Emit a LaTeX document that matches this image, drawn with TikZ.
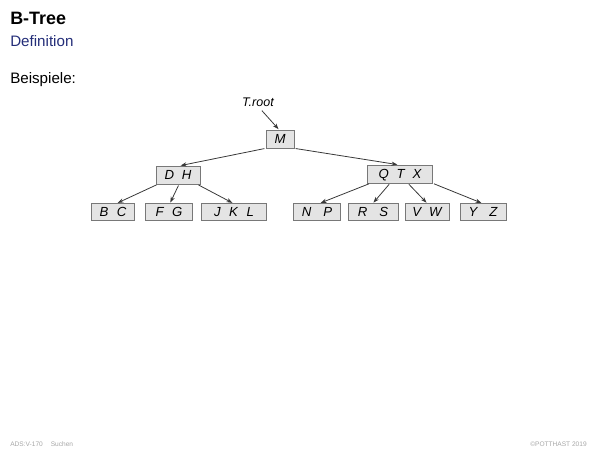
\documentclass[tikz,border=0pt]{standalone}
\usepackage{fontspec}
\setmainfont{Liberation Sans}
\usetikzlibrary{arrows.meta}
\definecolor{slideblue}{RGB}{35,45,120}
\definecolor{keyfill}{RGB}{228,228,228}
\definecolor{keydraw}{RGB}{120,120,120}
\definecolor{linkcol}{RGB}{55,55,55}
\newcommand\pxu{0.2667mm}
\begin{document}
\begin{tikzpicture}[x=\pxu, y=-\pxu,
    bnode/.style ={rectangle, draw=keydraw, fill=keyfill, line width=0.5pt,
      inner sep=0pt, minimum height=18*\pxu, text height=1.6ex, text depth=0.2ex,
      font=\fontsize{10}{12}\selectfont\itshape},
    leaf/.style ={bnode, minimum height=17*\pxu},
    slidetext/.style ={inner sep=0pt, anchor=base west},
    link/.style ={draw=linkcol, line width=0.6pt, -{Stealth[length=4.5pt,width=3.2pt]},
      shorten <=1pt, shorten >=0.5pt}]
   \useasboundingbox (0,0) rectangle (600,450);
   % heading
   \node[slidetext, font=\fontsize{13.6}{16}\selectfont\bfseries] (title) at (10,24) {B-Tree};
   \node[slidetext, font=\fontsize{11.5}{14}\selectfont, text=slideblue] (subtitle) at (10,46) {Definition};
   \node[slidetext, font=\fontsize{11.5}{14}\selectfont] (example) at (10,83) {Beispiele:};
   % tree
   \node[font=\fontsize{9.5}{11}\selectfont\itshape, inner sep=0pt] (troot) at (258,102) {T.root};
   \node[bnode, minimum width=28*\pxu] (M) at (280,139) {M};
   \node[bnode, minimum width=44*\pxu] (DH) at (178,175) {D\hspace{0.6em}H};
   \node[bnode, minimum width=65*\pxu] (QTX) at (400,174) {Q\hspace{0.6em}T\hspace{0.6em}X};
   \node[leaf, minimum width=43*\pxu] (BC) at (113,212) {B\hspace{0.65em}C};
   \node[leaf, minimum width=47*\pxu] (FG) at (169,212) {F\hspace{0.65em}G};
   \node[leaf, minimum width=65*\pxu] (JKL) at (234,212) {J\hspace{0.65em}K\hspace{0.65em}L};
   \node[leaf, minimum width=47*\pxu] (NP) at (317,212) {N\hspace{0.9em}P};
   \node[leaf, minimum width=50*\pxu] (RS) at (373,212) {R\hspace{0.9em}S};
   \node[leaf, minimum width=44*\pxu] (VW) at (427,212) {V\hspace{0.6em}W};
   \node[leaf, minimum width=46*\pxu] (YZ) at (483,212) {Y\hspace{0.9em}Z};
   \draw[link] ([xshift=3*\pxu, yshift=-3*\pxu]troot.south) to ([xshift=-1*\pxu]M.north);
   \draw[link] (M.south west) to ([xshift=2*\pxu]DH.north);
   \draw[link] (M.south east) to ([xshift=-2*\pxu]QTX.north);
   \draw[link] ([xshift=2*\pxu]DH.south west) to ([xshift=4*\pxu]BC.north);
   \draw[link] ([xshift=1*\pxu]DH.south) to ([xshift=1*\pxu]FG.north);
   \draw[link] ([xshift=-3*\pxu]DH.south east) to ([xshift=-1*\pxu]JKL.north);
   \draw[link] ([xshift=3*\pxu]QTX.south west) to ([xshift=3*\pxu]NP.north);
   \draw[link] ([xshift=-10*\pxu]QTX.south) to (RS.north);
   \draw[link] ([xshift=8*\pxu]QTX.south) to (VW.north);
   \draw[link] (QTX.south east) to ([xshift=-1*\pxu]YZ.north);
   % footer
   \node[slidetext, font=\fontsize{5}{6}\selectfont, text=black!35] (footl) at (10,446) {ADS:V-170\hspace{1.2em}Suchen};
   \node[slidetext, anchor=base east, font=\fontsize{5}{6}\selectfont, text=black!35] (footr) at (587,446) {©POTTHAST 2019};
 \end{tikzpicture}
\end{document}
